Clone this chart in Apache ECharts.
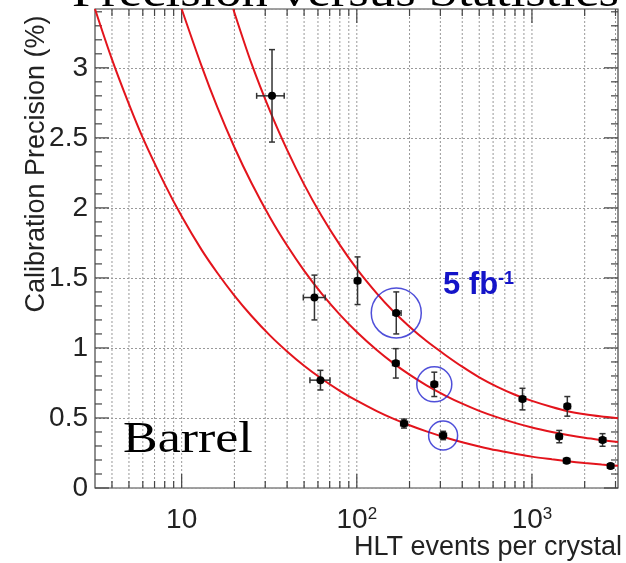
<!DOCTYPE html>
<html>
<head>
<meta charset="utf-8">
<script src="https://cdn.jsdelivr.net/npm/echarts@6/dist/echarts.min.js"></script>
<style>
html,body{margin:0;padding:0;background:#fff;}
#myChart{width:626px;height:563px;}
</style>
</head>
<body>
<div id="myChart"></div>
<script>
// fitted curves: [events, precision %]
var curveLow = [[3.2,3.42],[4,3.06],[5,2.74],[6,2.50],[8,2.17],[10,1.94],[13,1.70],[16,1.535],[20,1.374],[25,1.23],[32,1.088],[40,0.975],[50,0.873],[63,0.78],[80,0.694],[100,0.623],[130,0.549],[160,0.497],[200,0.448],[250,0.404],[320,0.361],[400,0.327],[500,0.297],[630,0.269],[800,0.245],[1000,0.224],[1300,0.205],[1600,0.191],[2000,0.178],[2500,0.167],[3100,0.158]];
var curveMid = [[10,3.42],[13,3.012],[16,2.717],[20,2.433],[25,2.179],[32,1.93],[40,1.731],[50,1.552],[63,1.388],[80,1.238],[100,1.114],[130,0.985],[160,0.895],[200,0.809],[250,0.733],[320,0.66],[400,0.602],[500,0.551],[630,0.506],[800,0.465],[1000,0.432],[1300,0.40],[1600,0.378],[2000,0.358],[2500,0.342],[3100,0.328]];
var curveHigh = [[19.7,3.42],[25,3.033],[32,2.689],[40,2.414],[50,2.168],[63,1.942],[80,1.736],[100,1.565],[130,1.39],[160,1.267],[200,1.151],[250,1.049],[320,0.95],[400,0.866],[500,0.79],[630,0.724],[800,0.666],[1000,0.622],[1300,0.578],[1600,0.548],[2000,0.526],[2500,0.51],[3100,0.498]];

// measured points
var pointX    = [32.8, 57.3, 101, 62, 168, 167, 186, 277, 311, 883, 1592, 1432, 1578, 2530, 2812];
var pointY    = [2.80, 1.36, 1.48, 0.77, 1.25, 0.89, 0.46, 0.74, 0.375, 0.635, 0.583, 0.367, 0.195, 0.343, 0.157];
var pointYErr = [0.33, 0.16, 0.17, 0.07, 0.15, 0.105, 0.032, 0.087, 0.03, 0.077, 0.07, 0.044, 0.012, 0.045, 0.012];
var pointXLo  = [26.8, 49.5, 97, 54, 161, 160, 178, 266, 297, 848, 1530, 1375, 1515, 2430, 2700];
var pointXHi  = [38.5, 66, 105, 70.3, 179, 174, 195, 289, 325, 920, 1660, 1490, 1645, 2640, 2930];

// blue circles around the 5 fb-1 points
var circleX = [168, 277, 311];
var circleY = [1.25, 0.74, 0.375];
var circleSize = [50, 35, 29];

// axis ticks
var xMajorTicks = [10, 100, 1000];
var xMinorTicks = [4,5,6,7,8,9,20,30,40,50,60,70,80,90,200,300,400,500,600,700,800,900,2000,3000];
var yMajorTicks = [0, 0.5, 1, 1.5, 2, 2.5, 3];
var yMinorTicks = [0.1,0.2,0.3,0.4,0.6,0.7,0.8,0.9,1.1,1.2,1.3,1.4,1.6,1.7,1.8,1.9,2.1,2.2,2.3,2.4,2.6,2.7,2.8,2.9,3.1,3.2,3.3,3.4];
var xMin = 3.2, xMax = 3100, yMin = 0, yMax = 3.42;

var myChart = echarts.init(document.getElementById('myChart'));

var tickColor = '#444';
var gridColor = '#999';

var xTickData = xMajorTicks.map(function (v) { return [v, 1, 1]; })
    .concat(xMinorTicks.map(function (v) { return [v, 1, 0]; }));
var yTickData = yMajorTicks.map(function (v) { return [xMin, v, 1]; })
    .concat(yMinorTicks.map(function (v) { return [xMin, v, 0]; }));
var pointData = pointX.map(function (x, i) {
    return [x, pointY[i], pointYErr[i], pointXLo[i], pointXHi[i]];
});
var circleData = circleX.map(function (x, i) { return [x, circleY[i]]; });

function renderXTick(params, api) {
    var p = api.coord([api.value(0), 1]);
    var cs = params.coordSys;
    var len = api.value(2) ? 14 : 7;
    var top = cs.y, bottom = cs.y + cs.height;
    return {
        type: 'group',
        children: [
            {type: 'line', shape: {x1: p[0], y1: top, x2: p[0], y2: bottom},
             style: {stroke: gridColor, lineWidth: 1, lineDash: [2, 2]}},
            {type: 'line', shape: {x1: p[0], y1: bottom, x2: p[0], y2: bottom - len},
             style: {stroke: tickColor, lineWidth: 1.2}},
            {type: 'line', shape: {x1: p[0], y1: top, x2: p[0], y2: top + len},
             style: {stroke: tickColor, lineWidth: 1.2}}
        ]
    };
}

function renderYTick(params, api) {
    var p = api.coord([api.value(0), api.value(1)]);
    var cs = params.coordSys;
    var len = api.value(2) ? 14 : 7;
    var left = cs.x, right = cs.x + cs.width;
    return {
        type: 'group',
        children: [
            {type: 'line', shape: {x1: left, y1: p[1], x2: left + len, y2: p[1]},
             style: {stroke: tickColor, lineWidth: 1.2}},
            {type: 'line', shape: {x1: right, y1: p[1], x2: right - len, y2: p[1]},
             style: {stroke: tickColor, lineWidth: 1.2}}
        ]
    };
}

function renderPoint(params, api) {
    var x = api.value(0), y = api.value(1), e = api.value(2);
    var c = api.coord([x, y]);
    var t = api.coord([x, y + e]);
    var b = api.coord([x, y - e]);
    var l = api.coord([api.value(3), y]);
    var r = api.coord([api.value(4), y]);
    var cap = 3;
    var st = {stroke: '#333', lineWidth: 1.5};
    return {
        type: 'group',
        children: [
            {type: 'line', shape: {x1: c[0], y1: t[1], x2: c[0], y2: b[1]}, style: st},
            {type: 'line', shape: {x1: c[0] - cap, y1: t[1], x2: c[0] + cap, y2: t[1]}, style: st},
            {type: 'line', shape: {x1: c[0] - cap, y1: b[1], x2: c[0] + cap, y2: b[1]}, style: st},
            {type: 'line', shape: {x1: l[0], y1: c[1], x2: r[0], y2: c[1]}, style: st},
            {type: 'line', shape: {x1: l[0], y1: c[1] - cap, x2: l[0], y2: c[1] + cap}, style: st},
            {type: 'line', shape: {x1: r[0], y1: c[1] - cap, x2: r[0], y2: c[1] + cap}, style: st},
            {type: 'circle', shape: {cx: c[0], cy: c[1], r: 4}, style: {fill: '#000'}}
        ]
    };
}

function curveSeries(data) {
    return {
        type: 'line',
        data: data,
        smooth: 0.3,
        showSymbol: false,
        clip: true,
        z: 3,
        lineStyle: {color: '#e3141c', width: 2}
    };
}

var option = {
    animation: false,
    backgroundColor: '#fff',
    grid: {
        left: 95, top: 9, right: 8, bottom: 75,
        show: true,
        borderColor: tickColor,
        borderWidth: 1.2,
        outerBoundsMode: 'none'
    },
    xAxis: {
        type: 'log',
        logBase: 10,
        min: xMin,
        max: xMax,
        axisLine: {show: false},
        axisTick: {show: false},
        splitLine: {show: false},
        axisLabel: {
            margin: 18,
            color: '#222',
            fontFamily: 'Liberation Sans',
            fontSize: 28,
            showMinLabel: false,
            showMaxLabel: false,
            formatter: function (v) {
                var e = Math.round(Math.log10(v));
                if (Math.abs(Math.log10(v) - e) > 1e-6) return '';
                if (e === 1) return '10';
                return '10{s|' + e + '}';
            },
            rich: {
                s: {fontSize: 17, verticalAlign: 'top', fontFamily: 'Liberation Sans', color: '#222'}
            }
        }
    },
    yAxis: {
        type: 'value',
        min: yMin,
        max: yMax,
        interval: 0.5,
        axisLine: {show: false},
        axisTick: {show: false},
        splitLine: {lineStyle: {color: gridColor, width: 1, type: [2, 2]}},
        axisLabel: {
            margin: 7,
            color: '#222',
            fontFamily: 'Liberation Sans',
            fontSize: 28,
            showMaxLabel: false
        }
    },
    graphic: [
        {type: 'text', x: 72, y: -6, scaleX: 1.17, silent: true,
         style: {text: 'Precision versus Statistics', font: '45px "Liberation Serif"', fill: '#000', verticalAlign: 'middle'}},
        {type: 'text', x: 37, y: 164, rotation: Math.PI / 2, silent: true,
         style: {text: 'Calibration Precision (%)', font: '27px "Liberation Sans"', fill: '#222', align: 'center', verticalAlign: 'middle'}},
        {type: 'text', x: 622, y: 548, silent: true,
         style: {text: 'HLT events per crystal', font: '27px "Liberation Sans"', fill: '#222', align: 'right', verticalAlign: 'middle'}},
        {type: 'text', x: 123, y: 440, scaleX: 1.18, silent: true, z: 10,
         style: {text: 'Barrel', font: '44px "Liberation Serif"', fill: '#000', verticalAlign: 'middle'}},
        {type: 'text', x: 443, y: 270, silent: true, z: 10,
         style: {
             text: '{a|5 fb}{b|-1}',
             rich: {
                 a: {font: 'bold 31px "Liberation Sans"', fill: '#1414c8'},
                 b: {font: 'bold 18px "Liberation Sans"', fill: '#1414c8', verticalAlign: 'top'}
             }
         }}
    ],
    series: [
        {type: 'custom', data: xTickData, renderItem: renderXTick, z: 1, silent: true, clip: false},
        {type: 'custom', data: yTickData, renderItem: renderYTick, z: 1, silent: true, clip: false},
        curveSeries(curveLow),
        curveSeries(curveMid),
        curveSeries(curveHigh),
        {type: 'custom', data: pointData, renderItem: renderPoint, z: 4, silent: true},
        {
            type: 'scatter',
            data: circleData,
            symbol: 'circle',
            symbolSize: function (v, p) { return circleSize[p.dataIndex]; },
            itemStyle: {color: 'rgba(0,0,0,0)', borderColor: '#2323d0', borderWidth: 1.5},
            z: 5,
            silent: true
        }
    ]
};

myChart.setOption(option);

window.onresize = function () {
    myChart.resize();
};
</script>
</body>
</html>
